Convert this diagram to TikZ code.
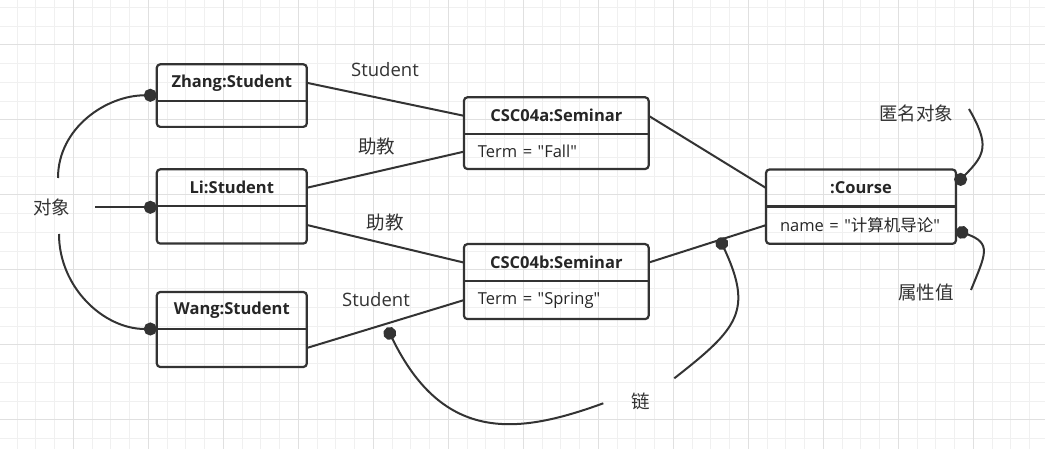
\documentclass[tikz,border=0pt]{standalone}
\usepackage{fontspec}
\setmainfont{Open Sans}[Ligatures=TeXOff]
\newfontfamily\cjk{Noto Sans CJK SC}
\usetikzlibrary{positioning,arrows.meta,calc}

\tikzset{
  gridminor/.style={draw=black!6, line width=1},
  gridmajor/.style={draw=black!12, line width=1},
  objname/.style={font=\fontsize{16.5}{20}\selectfont\bfseries, text=black!85, minimum height=37, inner sep=0, outer sep=0},
  objattr/.style={font=\fontsize{16.5}{20}\selectfont, text=black!85, align=left, inner xsep=14, inner ysep=0, outer sep=0},
  objframe/.style={draw=black!80, line width=2.2, rounded corners=3.5},
  link/.style={draw=black!80, line width=2},
  dotend/.style={link, -{Circle[length=13,width=13]}},
  note/.style={font=\fontsize{18.5}{22}\selectfont, text=black!80, inner sep=0},
}

\begin{document}
\begin{tikzpicture}[x=1pt,y=1pt]

\useasboundingbox (0,0) rectangle (1045,449);
\fill[white] (0,0) rectangle (1045,449);
\foreach \gk in {0,...,55} \draw[gridminor] ({17.1+18.75*\gk},0) -- ++(0,449);
\foreach \gk in {0,...,23} \draw[gridminor] (0,{10.25+18.75*\gk}) -- ++(1045,0);
\foreach \gk in {0,...,13} \draw[gridmajor] ({73.3+75*\gk},0) -- ++(0,449);
\foreach \gk in {0,...,5} \draw[gridmajor] (0,{29+75*\gk}) -- ++(1045,0);

% objects
\node[objname, minimum width=150] (zhh) at (231.8,366.2) {Zhang:Student};
\node[objattr, text width=122, minimum height=25.6, below=0pt of zhh] (zhb) {};
\node[objname, minimum width=150] (lih) at (231.8,261.2) {Li:Student};
\node[objattr, text width=122, minimum height=37.3, below=0pt of lih] (lib) {};
\node[objname, minimum width=150] (wgh) at (231.8,138.5) {Wang:Student};
\node[objattr, text width=122, minimum height=38, below=0pt of wgh] (wgb) {};

\node[objname, minimum width=184.7] (ah) at (556.3,333.2) {CSC04a:Seminar};
\node[objattr, text width=156.7, minimum height=34.7, below=0pt of ah] (ab) {Term = "Fall"};
\node[objname, minimum width=184.7] (bh) at (556.3,186.4) {CSC04b:Seminar};
\node[objattr, text width=156.7, minimum height=38, below=0pt of bh] (bb) {Term = "Spring"};

\node[objname, minimum width=190] (crh) at (861,261) {:Course};
\node[objattr, text width=162, minimum height=37.3, below=0pt of crh] (crb) {name = "{\cjk 计算机导论}"};

\foreach \ob in {zh,li,wg,a,b,cr} {
  \draw[objframe] (\ob h.north west) rectangle (\ob b.south east);
  \draw[objframe] (\ob h.south west) -- (\ob h.south east);
}

% links
\draw[link] (zhh.east) -- (ah.west);
\draw[link] (lih.east) -- (ab.west);
\draw[link] (lib.east) -- (bh.west);
\draw[link] (wgb.east) -- (bb.west);
\draw[link] (ah.east) -- (crh.west);
\draw[link] (bh.east) -- (crb.west);

\node[note] (rolesa) at (385,379) {Student};
\node[note] (rolea) at (376.5,302) {\cjk 助教};
\node[note] (roleb) at (385,226) {\cjk 助教};
\node[note] (rolesb) at (376,149) {Student};

% notes
\node[note] (objl) at (52,242) {\cjk 对象};
\coordinate (objt) at (58,271);
\coordinate (objm) at (95,241.7);
\coordinate (objb) at (59,215);
\draw[dotend] (objt) to[out=90,in=180] ([yshift=6pt]zhh.south west);
\draw[dotend] (objm) -- (objm -| lih.west);
\draw[dotend] (objb) to[out=-90,in=180] (wgh.south west);

\node[note] (anon) at (916,336) {\cjk 匿名对象};
\coordinate (anont) at (969,340);
\draw[dotend] (anont) to[out=-60,in=45,looseness=1.4] ([yshift=4pt]crh.east);

\node[note] (attr) at (926,157) {\cjk 属性值};
\coordinate (attrt) at (971,159);
\draw[dotend] (attrt) to[out=68,in=-20,looseness=1.6] ([yshift=-5pt]crb.east);

\node[note] (lnk) at (641,48) {\cjk 链};
\coordinate (lnkl) at (603.3,45.7);
\coordinate (lnkr) at (674.3,70.7);
\coordinate (lnka) at ($(wgb.east)!0.51!(bb.west)+(0,-4)$);
\coordinate (lnkb) at ($(bh.east)!0.6!(crb.west)+(0,2.5)$);
\draw[dotend] (lnkl) to[out=-160,in=-64,out looseness=1,in looseness=1.45] (lnka);
\draw[dotend] (lnkr) to[out=38,in=-65,looseness=1.4] (lnkb);

\end{tikzpicture}
\end{document}
